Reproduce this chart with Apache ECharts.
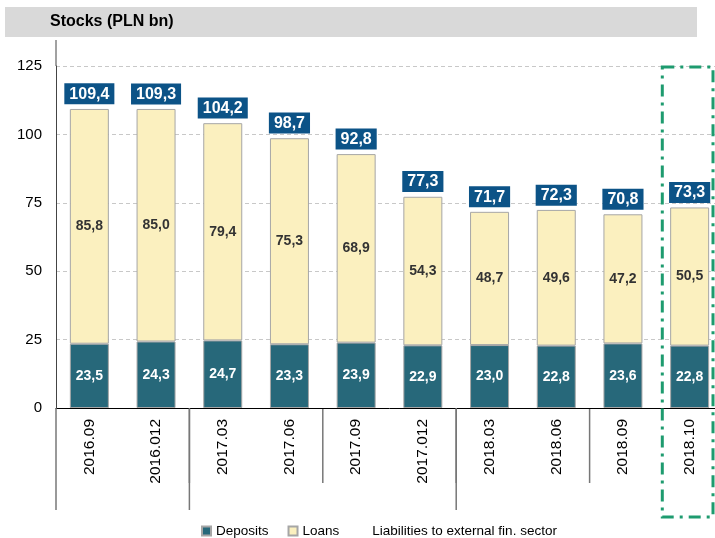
<!DOCTYPE html>
<html>
<head>
<meta charset="utf-8">
<script src="https://cdn.jsdelivr.net/npm/echarts@6/dist/echarts.min.js"></script>
<style>
  html, body { margin: 0; padding: 0; background: #fff; overflow: hidden; }
  #chart { width: 723px; height: 538px; }
</style>
</head>
<body>
<div id="chart"></div>
<script>
// Data
const categories = ['2016.09', '2016.012', '2017.03', '2017.06', '2017.09', '2017.012', '2018.03', '2018.06', '2018.09', '2018.10']
const deposits = [23.5, 24.3, 24.7, 23.3, 23.9, 22.9, 23.0, 22.8, 23.6, 22.8]
const loans = [85.8, 85.0, 79.4, 75.3, 68.9, 54.3, 48.7, 49.6, 47.2, 50.5]
const totals = [109.4, 109.3, 104.2, 98.7, 92.8, 77.3, 71.7, 72.3, 70.8, 73.3]
const yTicks = [0, 25, 50, 75, 100, 125]

const fmt = v => v.toFixed(1).replace('.', ',')
const font = '"Liberation Sans", Arial, sans-serif'

const chart = echarts.init(document.getElementById('chart'))

chart.setOption({
  animation: false,
  backgroundColor: '#fff',
  textStyle: { fontFamily: font },
  grid: { left: 56, right: 0, top: 66, bottom: 130 },
  legend: {
    left: 196,
    top: 519,
    itemWidth: 9,
    itemHeight: 9,
    itemGap: 19,
    textStyle: { fontSize: 13.5, color: '#000', fontFamily: font },
    data: [
      { name: 'Deposits', icon: 'rect' },
      { name: 'Loans', icon: 'rect' },
      { name: 'Liabilities to external fin. sector', icon: 'rect', itemStyle: { opacity: 0 } }
    ]
  },
  xAxis: {
    type: 'category',
    data: categories,
    axisLine: { lineStyle: { color: '#000', width: 1 } },
    axisTick: { length: 75, lineStyle: { color: '#000' } },
    axisLabel: { rotate: 90, fontSize: 15.5, color: '#000', margin: 11, fontFamily: font }
  },
  yAxis: {
    type: 'value',
    min: yTicks[0],
    max: yTicks[yTicks.length - 1],
    interval: 25,
    axisLine: { show: true, lineStyle: { color: '#444' } },
    axisTick: { show: false },
    axisLabel: { fontSize: 15, color: '#000', margin: 14, fontFamily: font },
    splitLine: { lineStyle: { color: '#c8c8c8', type: [4, 3] } }
  },
  series: [
    {
      name: 'Deposits',
      type: 'bar',
      stack: 'total',
      barWidth: 39,
      data: deposits,
      itemStyle: { color: '#27687a', borderColor: '#a6a6a6', borderWidth: 1 },
      label: {
        show: true,
        position: 'inside',
        color: '#fff',
        fontWeight: 'bold',
        fontSize: 14,
        formatter: p => fmt(p.value)
      }
    },
    {
      name: 'Loans',
      type: 'bar',
      stack: 'total',
      barWidth: 39,
      data: loans,
      itemStyle: { color: '#fbf0bf', borderColor: '#a6a6a6', borderWidth: 1 },
      label: {
        show: true,
        position: 'inside',
        color: '#333',
        fontWeight: 'bold',
        fontSize: 14,
        formatter: p => fmt(p.value)
      }
    },
    {
      name: 'Liabilities to external fin. sector',
      type: 'scatter',
      data: totals,
      symbolSize: 1,
      itemStyle: { color: 'rgba(0,0,0,0)', opacity: 1 },
      label: {
        show: true,
        position: 'top',
        distance: 4,
        color: '#fff',
        fontWeight: 'bold',
        fontSize: 16,
        backgroundColor: '#0c5387',
        padding: [3, 5, 2, 5],
        formatter: p => fmt(p.value)
      },
      z: 5
    }
  ]
})

// decorations derived from the axes
const px = (i, v) => chart.convertToPixel({ seriesIndex: 0 }, [i, v])
const step = px(1, 0)[0] - px(0, 0)[0]
const y0 = px(0, 0)[1]
const yTop = px(0, yTicks[yTicks.length - 1])[1]
const longTicks = [0, 2, 6]
const greyTicks = [2, 4, 6, 8]
const last = categories.length - 1
const lastX = px(last, 0)[0]

const graphics = [
  { type: 'rect', shape: { x: 5, y: 7, width: 692, height: 30 }, style: { fill: '#d9d9d9' }, z: -1 },
  { type: 'text', x: 50, y: 22, style: { text: 'Stocks (PLN bn)', font: 'bold 16px ' + font, fill: '#000', textVerticalAlign: 'middle' } },
  { type: 'line', shape: { x1: px(0, 0)[0] - step / 2, y1: 40, x2: px(0, 0)[0] - step / 2, y2: yTop }, style: { stroke: '#444', lineWidth: 1 } }
]
greyTicks.forEach(k => {
  const x = px(k, 0)[0] - step / 2
  graphics.push({ type: 'line', shape: { x1: x, y1: y0 + 1, x2: x, y2: y0 + 75 }, style: { stroke: '#777', lineWidth: 1.5 }, z: 10 })
})
longTicks.forEach(k => {
  const x = px(k, 0)[0] - step / 2
  graphics.push({ type: 'line', shape: { x1: x, y1: y0, x2: x, y2: y0 + 102 }, style: { stroke: '#777', lineWidth: 1.5 }, z: 10 })
})
graphics.push({
  type: 'rect',
  shape: { x: lastX - step / 2 + 6, y: yTop + 1, width: step - 16, height: 450 },
  style: { fill: 'none', stroke: '#1e9b6f', lineWidth: 3, lineDash: [12, 6, 3, 6] },
  z: 20
})
chart.setOption({ graphic: graphics })
</script>
</body>
</html>
